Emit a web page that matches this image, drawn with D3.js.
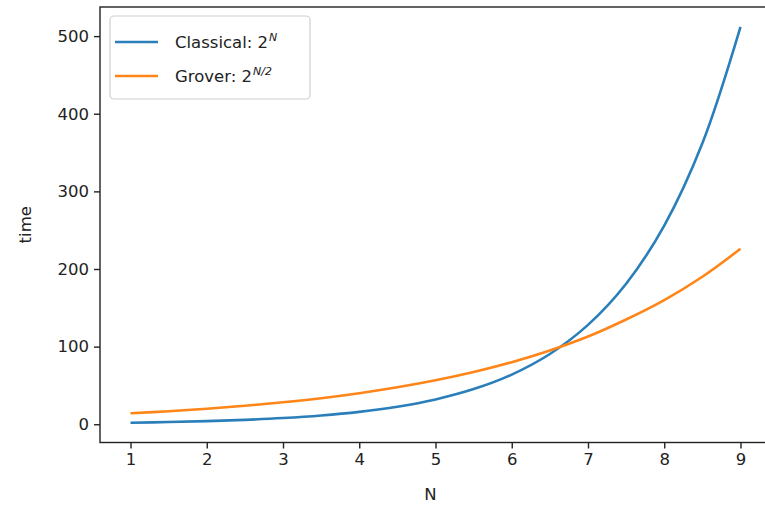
<!DOCTYPE html>
<html>
<head>
<meta charset="utf-8">
<script src="https://cdn.jsdelivr.net/npm/d3@7"></script>
<style>
body{margin:0;background:#fff;}
svg{font-family:"DejaVu Sans",sans-serif;}
</style>
</head>
<body>
<svg width="765" height="506"></svg>
<script>
var nValues=[1,1.5,2,2.5,3,3.5,4,4.5,5,5.5,6,6.5,7,7.5,8,8.5,9];
var classical=[2,2.83,4,5.66,8,11.3,16,22.6,32,45.3,64,90.5,128,181,256,362,512];
var grover=[14.1,16.8,20,23.8,28.3,33.6,40,47.6,56.6,67.3,80,95.1,113,135,160,190,226];
var xTicks=[1,2,3,4,5,6,7,8,9];
var yTicks=[0,100,200,300,400,500];

var drawChart=function(){
  let svg=d3.select('svg');
  let left=100, top=7, right=771, bottom=442.5;
  let xScale=d3.scaleLinear().domain([0.6,9.4]).range([left,right]);
  let yScale=d3.scaleLinear().domain([-23.5,537.5]).range([bottom,top]);

  let plot=svg.append('g').attr('id','plot');

  let line=function(vals){
    return d3.line()
      .x(function(d,i){return xScale(nValues[i]);})
      .y(function(d){return yScale(d);})
      .curve(d3.curveCatmullRom)(vals);
  };
  plot.append('path').attr('d',line(classical))
    .attr('fill','none').attr('stroke','#2a7fba').attr('stroke-width',2.6);
  plot.append('path').attr('d',line(grover))
    .attr('fill','none').attr('stroke','#ff8518').attr('stroke-width',2.6);

  // spines
  plot.append('rect').attr('x',left).attr('y',top)
    .attr('width',right-left).attr('height',bottom-top)
    .attr('fill','none').attr('stroke','#222').attr('stroke-width',1.4);

  let xAxis=d3.axisBottom(xScale).tickValues(xTicks).tickSize(6).tickPadding(5).tickFormat(d3.format('d'));
  let xGroup=svg.append('g').attr('transform','translate(0,'+bottom+')').call(xAxis);
  let yAxis=d3.axisLeft(yScale).tickValues(yTicks).tickSize(6).tickPadding(5).tickFormat(d3.format('d'));
  let yGroup=svg.append('g').attr('transform','translate('+left+',0)').call(yAxis);
  [xGroup,yGroup].forEach(function(g){
    g.select('.domain').remove();
    g.selectAll('line').attr('stroke','#222').attr('stroke-width',1.4);
    g.selectAll('text').attr('fill','#222').style('font-size','16.5px').style('font-family','DejaVu Sans');
  });

  svg.append('text').text('N').attr('x',(left+765)/2-2).attr('y',500)
    .attr('text-anchor','middle').attr('fill','#222').style('font-size','16.5px');
  svg.append('text').text('time')
    .attr('transform','translate(31,'+((top+bottom)/2)+')rotate(-90)')
    .attr('text-anchor','middle').attr('fill','#222').style('font-size','16.5px');

  // legend
  let legend=svg.append('g');
  legend.append('rect').attr('x',110).attr('y',16).attr('width',200).attr('height',83)
    .attr('rx',4).attr('fill','#fff').attr('fill-opacity',0.8)
    .attr('stroke','#d0d0d0').attr('stroke-width',1.2);
  let items=[{name:'Classical: 2',sup:'N',color:'#2a7fba'},{name:'Grover: 2',sup:'N/2',color:'#ff8518'}];
  items.forEach(function(it,i){
    let y=42+i*34;
    legend.append('line').attr('x1',115).attr('x2',158).attr('y1',y).attr('y2',y)
      .attr('stroke',it.color).attr('stroke-width',2.6);
    let t=legend.append('text').attr('x',175).attr('y',y+6).attr('fill','#222').style('font-size','16.5px');
    t.append('tspan').text(it.name);
    t.append('tspan').text(it.sup).attr('dy',-7).attr('dx',1).style('font-size','11px').style('font-style','italic');
  });
};
drawChart();
</script>
</body>
</html>
